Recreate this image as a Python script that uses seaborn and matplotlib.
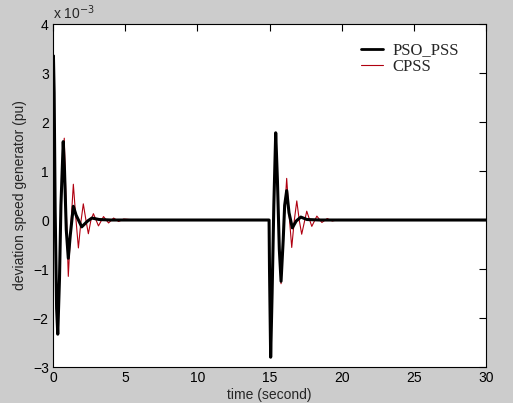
import numpy as np
import pandas as pd
import matplotlib
matplotlib.use('Agg')
import matplotlib.pyplot as plt
import seaborn as sns

# values in units of 1e-3 pu
t_pso = [0, 0.03, 0.08, 0.15, 0.25, 0.33, 0.45, 0.55, 0.71, 0.8, 0.92, 1.06, 1.2, 1.41, 1.6, 1.99,
         2.4, 2.7, 3.2, 4.0, 14.97, 15.0, 15.08, 15.18, 15.3, 15.43, 15.55, 15.68, 15.8, 15.95,
         16.05, 16.19, 16.35, 16.58, 16.85, 17.17, 17.6, 18.5, 30]
v_pso = [0, 3.35, 2.6, 0.2, -1.8, -2.33, -1.2, 0.3, 1.6, 1.0, -0.2, -0.78, -0.3, 0.28, 0.1, -0.14,
         -0.02, 0.04, 0.01, 0, 0, -1.0, -2.8, -1.5, 0.3, 1.78, 0.8, -0.6, -1.25, -0.4,
         0.3, 0.6, 0.15, -0.16, -0.02, 0.06, 0.01, 0, 0]

t_cpss = [0, 0.03, 0.08, 0.15, 0.25, 0.33, 0.45, 0.58, 0.78, 0.92, 1.06, 1.24, 1.41, 1.58, 1.76,
          1.93, 2.1, 2.28, 2.45, 2.63, 2.8, 3.15, 3.5, 3.85, 4.2, 4.55, 4.9, 5.3, 6.0, 14.97,
          15.0, 15.08, 15.18, 15.3, 15.43, 15.55, 15.68, 15.8, 15.95, 16.19, 16.36, 16.54, 16.72,
          16.89, 17.06, 17.23, 17.58, 17.93, 18.28, 18.63, 19.0, 19.35, 19.8, 20.5, 30]
v_cpss = [0, 3.3, 2.5, 0.2, -1.8, -2.3, -1.2, 0.5, 1.67, 0.2, -1.15, -0.1, 0.73, 0.05, -0.57,
          -0.05, 0.33, 0.0, -0.28, 0.0, 0.13, -0.12, 0.07, -0.06, 0.04, -0.03, 0.02, 0.01, 0, 0,
          -1.0, -2.75, -1.5, 0.3, 1.75, 0.8, -0.6, -1.3, -0.3, 0.85, 0.1, -0.56, 0.0,
          0.39, 0.0, -0.29, 0.18, -0.13, 0.08, -0.05, 0.03, -0.02, 0.01, 0, 0]

df_pso = pd.DataFrame({'t': t_pso, 'v': v_pso})
df_cpss = pd.DataFrame({'t': t_cpss, 'v': v_cpss})

sns.set_style('white')
plt.rcParams['font.family'] = ['Liberation Sans', 'DejaVu Sans']

fig = plt.figure(figsize=(5.13, 4.03), dpi=100)
fig.patch.set_facecolor('#cccccc')
ax = fig.add_axes([0.1033, 0.0893, 0.8441, 0.8511])
ax.set_facecolor('white')

sns.lineplot(data=df_cpss, x='t', y='v', ax=ax, color='#b00010', linewidth=0.8,
             sort=False, estimator=None, label='CPSS', zorder=2)
sns.lineplot(data=df_pso, x='t', y='v', ax=ax, color='black', linewidth=2.2,
             sort=False, estimator=None, label='PSO_PSS', zorder=3)

ax.set_xlim(0, 30)
ax.set_ylim(-3, 4)
ax.set_xticks(range(0, 31, 5))
ax.set_yticks(range(-3, 5))
ax.tick_params(direction='in', length=5, width=0.8, top=True, right=True,
               labelsize=10, colors='black', pad=3)
for s in ax.spines.values():
    s.set_color('black')
    s.set_linewidth(0.8)

ax.set_xlabel('time (second)', fontsize=10, labelpad=2)
ax.set_ylabel('deviation speed generator (pu)', fontsize=10, labelpad=4)
ax.text(0.0, 1.005, 'x 10$^{-3}$', transform=ax.transAxes, fontsize=10, va='bottom', ha='left')

h, l = ax.get_legend_handles_labels()
leg = ax.legend(h[::-1], l[::-1], loc='upper left', bbox_to_anchor=(0.7106, 0.946), frameon=False,
                prop={'family': 'Liberation Serif', 'size': 12}, handlelength=1.35,
                handletextpad=0.55, labelspacing=0.0, borderpad=0, borderaxespad=0)
leg.get_lines()[0].set_linewidth(2)

fig.savefig('out.png', dpi=100, facecolor=fig.get_facecolor())
